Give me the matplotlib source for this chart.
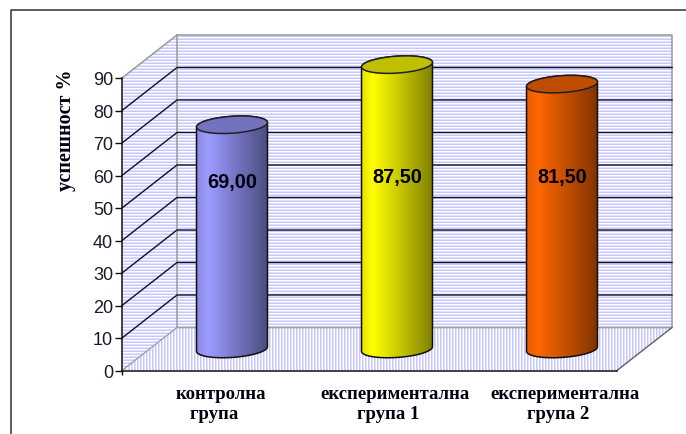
import numpy as np
import matplotlib
matplotlib.use('Agg')
from matplotlib import pyplot as plt
from matplotlib.colors import LinearSegmentedColormap
from matplotlib.lines import Line2D
from matplotlib.patches import Polygon

groups = ['контролна\nгрупа   ', 'експериментална\nгрупа 1   ', 'експериментална\nгрупа 2   ']
values = [69.0, 87.5, 81.5]
value_labels = ['69,00', '87,50', '81,50']
y_ticks = [0, 10, 20, 30, 40, 50, 60, 70, 80, 90]
y_title = 'успешност %'

body_colors = [['#8a8ae6', '#9c9cff', '#7a7acc', '#4c4c80'],
               ['#e6e600', '#ffff00', '#cccc00', '#808000'],
               ['#e65c00', '#ff6600', '#cc5200', '#803300']]
top_colors = ['#7272bf', '#bfbf00', '#bf4d00']

W, H = 686, 435
px_left, px_right = 122, 617
px_bottom, px_top = 371.5, 79

# depth of the fake 3d box, in data units
depth_x = 55 / 165
depth_y = 43 / 3.25
x_max = 3
y_max = 90

fig = plt.figure(figsize=(W / 100, H / 100), dpi=100)
ax = fig.add_axes([px_left / W, 1 - px_bottom / H, (px_right - px_left) / W, (px_bottom - px_top) / H])
ax.patch.set_visible(False)

# outer frame, open on the right and at the bottom
fig.add_artist(Line2D([11 / W, 11 / W, 1], [0, 1 - 11 / H, 1 - 11 / H], color='#303030', lw=1.1))


def stripes(poly_pts, horizontal):
    x0, x1 = 0, x_max + depth_x
    y0, y1 = 0, y_max + depth_y
    n = 600
    if horizontal:
        tex = np.array([[1.0], [0.55], [0.0]] * (n // 3))
    else:
        tex = np.array([[1.0, 0.55, 0.0] * (n // 3)])
    cmap = LinearSegmentedColormap.from_list('st', ['#ffffff', '#c8c8ff'])
    # keep one texture row/column close to one pixel
    if horizontal:
        y1b = y0 + n / 3.25
        ext = [x0, x1, y0, y1b]
    else:
        x1b = x0 + n / 165
        ext = [x0, x1b, y0, y1]
    im = ax.imshow(tex, extent=ext, cmap=cmap, aspect='auto', interpolation='nearest', zorder=0, origin='lower')
    im.set_clip_box(fig.bbox)
    poly = Polygon(poly_pts, transform=ax.transData, fill=False, edgecolor='none')
    ax.add_patch(poly)
    poly.set_clip_on(False)
    im.set_clip_path(poly)


back = [(depth_x, depth_y), (x_max + depth_x, depth_y), (x_max + depth_x, y_max + depth_y), (depth_x, y_max + depth_y)]
side = [(0, 0), (depth_x, depth_y), (depth_x, y_max + depth_y), (0, y_max)]
floor = [(0, 0), (x_max, 0), (x_max + depth_x, depth_y), (depth_x, depth_y)]
stripes(back, True)
stripes(side, True)
stripes(floor, False)

# box edges
edge = '#a0a0a0'
ax.plot([0, depth_x, x_max + depth_x, x_max + depth_x, depth_x, depth_x],
        [y_max, y_max + depth_y, y_max + depth_y, depth_y, depth_y, y_max + depth_y],
        color=edge, lw=1.2, clip_on=False, zorder=1)
ax.plot([0, depth_x], [0, depth_y], color=edge, lw=1, clip_on=False, zorder=1)
ax.plot([x_max, x_max + depth_x], [0, depth_y], color='#606060', lw=1, clip_on=False, zorder=1)

# grid lines on side and back wall
for v in y_ticks[1:-1]:
    ax.plot([0, depth_x, x_max + depth_x], [v, v + depth_y, v + depth_y], color='#101020', lw=1, clip_on=False, zorder=1.5)

# cylinders
a = 0.215
b = 2.6
k = 0.7
t = np.linspace(0, 2 * np.pi, 80)
for i, val in enumerate(values):
    cx = i + 0.5 + depth_x / 2
    base = depth_y / 2
    top = val + depth_y / 2
    t_low = np.linspace(np.pi, 2 * np.pi, 40)
    t_up = np.linspace(0, np.pi, 40)
    xs = np.r_[cx + a * np.cos(t_low), cx + a * np.cos(t_up)]
    ys = np.r_[base + b * np.sin(t_low) + k * np.cos(t_low), top + b * np.sin(t_up) + k * np.cos(t_up)]
    body = Polygon(np.c_[xs, ys], closed=True, facecolor='none', edgecolor='#101010', lw=1.1, zorder=3, clip_on=False)
    ax.add_patch(body)
    cm = LinearSegmentedColormap.from_list('c%d' % i, list(zip([0, 0.15, 0.5, 1], body_colors[i])))
    im = ax.imshow(np.linspace(0, 1, 128).reshape(1, -1), extent=[cx - a, cx + a, base - b - 1, top + b + 1],
                   cmap=cm, aspect='auto', zorder=2.5)
    im.set_clip_box(fig.bbox)
    im.set_clip_path(body)
    ax.add_patch(Polygon(np.c_[cx + a * np.cos(t), top + b * np.sin(t) + k * np.cos(t)], closed=True,
                         facecolor=top_colors[i], edgecolor='#202020', lw=1.1, zorder=3.5, clip_on=False))

label_y = [58.3, 59.6, 59.6]
for i, lab in enumerate(value_labels):
    ax.text(i + 0.5 + depth_x / 2, label_y[i], lab, ha='center', va='center', fontsize=14.3,
            fontweight='bold', family='Liberation Sans', color='#000010', zorder=5)

ax.set_xlim(0, x_max)
ax.set_ylim(0, y_max)
for s in ['top', 'right']:
    ax.spines[s].set_visible(False)
for s in ['left', 'bottom']:
    ax.spines[s].set_linewidth(1.1)
    ax.spines[s].set_color('#101010')
    ax.spines[s].set_zorder(2)
ax.set_yticks(y_ticks)
ax.set_yticklabels([str(v) for v in y_ticks], fontsize=13, family='Liberation Sans', color='#1a1a2a')
ax.tick_params(axis='y', length=5, width=1, pad=1.5, color='#101010')
ax.set_xticks([0])
ax.set_xticklabels([''])
ax.tick_params(axis='x', length=3, width=1)

label_x = [0.6, 1.655, 2.685]
for i, g in enumerate(groups):
    ax.text(label_x[i], -4.5, g, ha='center', va='top', fontsize=13.5, fontweight='bold',
            family='Liberation Serif', color='#000010', linespacing=1.2)

fig.text(66 / W, 1 - 130 / H, y_title, rotation=90, ha='center', va='center', fontsize=14.5,
         fontweight='bold', family='Liberation Serif', color='#000010')

fig.savefig('out.png', dpi=100)
